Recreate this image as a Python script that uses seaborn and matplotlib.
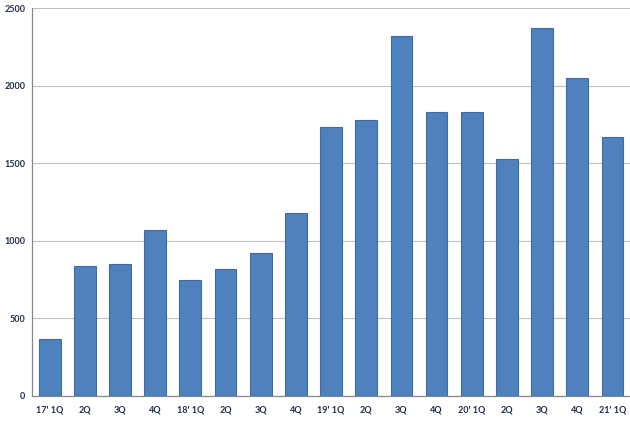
import numpy as np
import pandas as pd
import matplotlib
matplotlib.use('Agg')
import matplotlib.pyplot as plt
import seaborn as sns

# data
quarters = ["17' 1Q", "2Q", "3Q", "4Q", "18' 1Q", "2Q", "3Q", "4Q",
            "19' 1Q", "2Q", "3Q", "4Q", "20' 1Q", "2Q", "3Q", "4Q", "21' 1Q"]
values = [365, 840, 851, 1071, 748, 818, 922, 1180,
          1730, 1776, 2320, 1828, 1828, 1524, 2370, 2046, 1666]
yticks = [0, 500, 1000, 1500, 2000, 2500]

df = pd.DataFrame({'idx': range(len(quarters)), 'value': values})

sns.set_style('white')
plt.rcParams['font.family'] = ['Lato', 'DejaVu Sans']
fig = plt.figure(figsize=(6.3, 4.22), dpi=100)
ax = fig.add_axes([0.051, 0.062, 0.949, 0.919])

bar_color = '#4F81BD'
sns.barplot(data=df, x='idx', y='value', color=bar_color, saturation=1, width=0.62,
            edgecolor='#3D6DA8', linewidth=0.8, ax=ax, zorder=3)

ax.set_ylim(0, 2500)
ax.set_xlim(-0.5, len(quarters) - 0.5)
ax.set_yticks(yticks)
ax.set_xticks(range(len(quarters)))
ax.set_xticklabels(quarters)
ax.yaxis.grid(True, color='#BFBFBF', linewidth=0.8, zorder=0)
ax.set_axisbelow(True)

for s in ['top', 'right']:
    ax.spines[s].set_visible(False)
for s in ['left', 'bottom']:
    ax.spines[s].set_color('#888888')
    ax.spines[s].set_linewidth(0.9)

txt_color = '#1F2D4A'
ax.tick_params(axis='y', length=3, color='#888888', labelsize=6.5, labelcolor=txt_color, pad=2)
ax.tick_params(axis='x', which='major', length=0, labelsize=6.5, labelcolor=txt_color, pad=7)
ax.set_xticks(np.arange(-0.5, len(quarters)), minor=True)
ax.tick_params(axis='x', which='minor', length=4, color='#888888')
for lab in ax.get_xticklabels() + ax.get_yticklabels():
    lab.set_fontweight('bold')

ax.set_xlabel('')
ax.set_ylabel('')

plt.savefig('out.png', dpi=100)
plt.close()
